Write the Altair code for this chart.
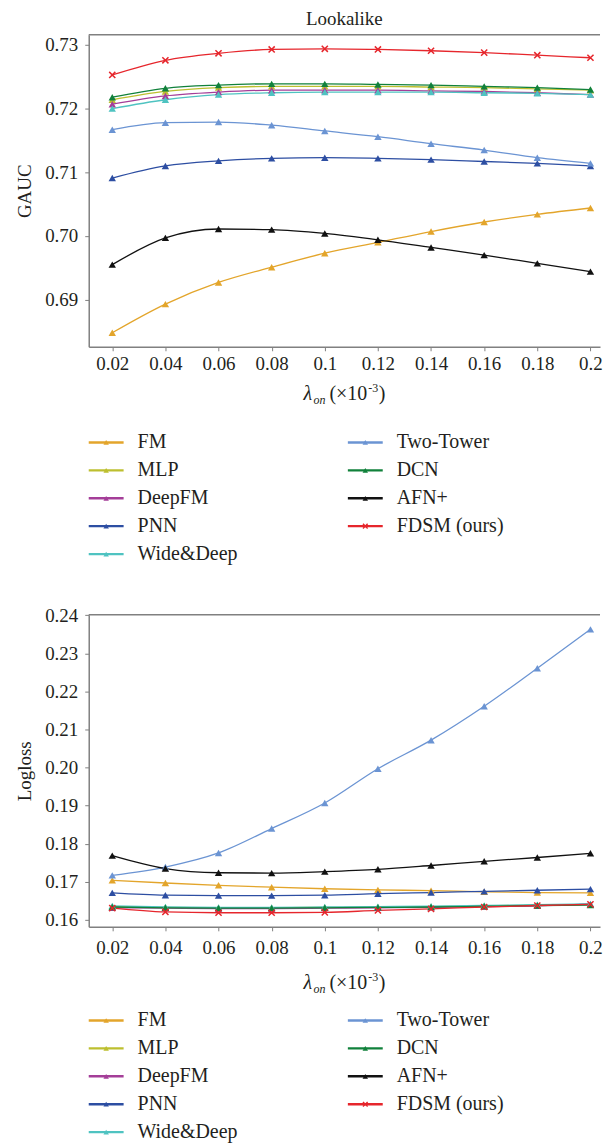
import altair as alt
import pandas as pd

# ---------------- data ----------------
x_vals = [0.02, 0.04, 0.06, 0.08, 0.1, 0.12, 0.14, 0.16, 0.18, 0.2]
names = ["FM", "MLP", "DeepFM", "PNN", "Wide&Deep", "Two-Tower", "DCN", "AFN+", "FDSM (ours)"]
colors = ["#E3A52B", "#BDBF2F", "#A43E98", "#2D4EA2", "#4FC3C1", "#6B94D3", "#11813B", "#111111", "#E6262C"]

fm_gauc = [0.6848, 0.6893, 0.6927, 0.6951, 0.6973, 0.6990, 0.7007, 0.7022, 0.7034, 0.7044]
mlp_gauc = [0.7214, 0.7227, 0.7233, 0.7235, 0.7235, 0.7235, 0.7234, 0.7233, 0.7231, 0.7229]
deepfm_gauc = [0.7207, 0.7220, 0.7226, 0.7229, 0.7229, 0.7229, 0.7228, 0.7227, 0.7225, 0.7222]
pnn_gauc = [0.7091, 0.7110, 0.7118, 0.7122, 0.7123, 0.7122, 0.7120, 0.7117, 0.7114, 0.7110]
wd_gauc = [0.7200, 0.7214, 0.7222, 0.7225, 0.7226, 0.7226, 0.7226, 0.7225, 0.7224, 0.7222]
tt_gauc = [0.7167, 0.7178, 0.7179, 0.7174, 0.7165, 0.7156, 0.7145, 0.7135, 0.7123, 0.7114]
dcn_gauc = [0.7218, 0.7232, 0.7237, 0.7239, 0.7239, 0.7238, 0.7237, 0.7235, 0.7233, 0.7230]
afn_gauc = [0.6955, 0.6997, 0.7011, 0.7010, 0.7004, 0.6994, 0.6982, 0.6970, 0.6957, 0.6944]
fdsm_gauc = [0.7253, 0.7276, 0.7287, 0.7293, 0.7294, 0.7293, 0.7291, 0.7288, 0.7284, 0.7280]

fm_ll = [0.1704, 0.1697, 0.1691, 0.1686, 0.1682, 0.1679, 0.1677, 0.1674, 0.1672, 0.1671]
mlp_ll = [0.1635, 0.1633, 0.1632, 0.1632, 0.1633, 0.1634, 0.1635, 0.1637, 0.1639, 0.1641]
deepfm_ll = [0.1632, 0.1631, 0.1630, 0.1630, 0.1631, 0.1632, 0.1633, 0.1635, 0.1637, 0.1642]
pnn_ll = [0.1671, 0.1665, 0.1664, 0.1664, 0.1665, 0.1669, 0.1672, 0.1675, 0.1678, 0.1681]
wd_ll = [0.1637, 0.1634, 0.1633, 0.1633, 0.1634, 0.1635, 0.1636, 0.1638, 0.1640, 0.1642]
tt_ll = [0.1717, 0.1739, 0.1776, 0.1840, 0.1907, 0.1997, 0.2072, 0.2161, 0.2261, 0.2363]
dcn_ll = [0.1634, 0.1632, 0.1631, 0.1631, 0.1632, 0.1633, 0.1634, 0.1636, 0.1638, 0.1639]
afn_ll = [0.1769, 0.1735, 0.1724, 0.1723, 0.1727, 0.1733, 0.1743, 0.1754, 0.1764, 0.1775]
fdsm_ll = [0.1631, 0.1621, 0.1619, 0.1619, 0.1620, 0.1625, 0.1629, 0.1634, 0.1638, 0.1641]

gauc_ticks = [0.69, 0.70, 0.71, 0.72, 0.73]
ll_ticks = [0.16, 0.17, 0.18, 0.19, 0.20, 0.21, 0.22, 0.23, 0.24]

gauc_series = [fm_gauc, mlp_gauc, deepfm_gauc, pnn_gauc, wd_gauc, tt_gauc, dcn_gauc, afn_gauc, fdsm_gauc]
ll_series = [fm_ll, mlp_ll, deepfm_ll, pnn_ll, wd_ll, tt_ll, dcn_ll, afn_ll, fdsm_ll]


def long_df(series):
    rows = []
    for k, (name, vals) in enumerate(zip(names, series)):
        for x, v in zip(x_vals, vals):
            rows.append({"model": name, "k": k, "x": x, "v": v})
    return pd.DataFrame(rows)


gauc_df = long_df(gauc_series)
ll_df = long_df(ll_series)
leg_df = pd.DataFrame([{"model": n, "col": i // 5, "row": i % 5} for i, n in enumerate(names)])

# ---------------- style ----------------
FONT = "Liberation Serif"
TXT = "#231F20"
AX = "#808080"
W, H = 513, 313
CROSS = "M-1,-1L1,1M-1,1L1,-1"


def panel(df, ytitle, ydomain, yticks, xt_y, leg_range, xlabpad):
    color = alt.Color("model:N", scale=alt.Scale(domain=names, range=colors), legend=None)
    xenc = alt.X("x:Q", scale=alt.Scale(domain=[0.01114, 0.2036], nice=False, zero=False),
                 axis=alt.Axis(values=x_vals, format="~g", title=None, labelFlush=False,
                               tickSize=4, labelPadding=xlabpad))
    yenc = alt.Y("v:Q", scale=alt.Scale(domain=ydomain, nice=False, zero=False),
                 axis=alt.Axis(values=yticks, format=".2f", title=ytitle, labelPadding=7,
                               titlePadding=10, tickSize=4))
    base = alt.Chart(df)
    lines = base.mark_line(strokeWidth=1.3, interpolate="monotone").encode(
        x=xenc, y=yenc, color=color, order="x:Q")
    tri = base.transform_filter(alt.datum.model != "FDSM (ours)").mark_point(
        shape="triangle-up", filled=True, size=55, opacity=1).encode(x=xenc, y=yenc, color=color)
    crs = base.transform_filter(alt.datum.model == "FDSM (ours)").mark_point(
        shape=CROSS, filled=False, size=38, strokeWidth=1.5, opacity=1).encode(x=xenc, y=yenc, color=color)

    one = alt.Data(values=[{}])
    border = alt.Chart(one).mark_rule(color=AX, strokeWidth=1.5).encode(
        x=alt.value(0), x2=alt.value(W), y=alt.value(0))
    x0 = W / 2 - 41
    t1 = alt.Chart(one).mark_text(font=FONT, fontSize=20, fontStyle="italic", align="left",
                                  baseline="alphabetic", color=TXT).encode(
        x=alt.value(x0), y=alt.value(xt_y + 7), text=alt.value("λ"))
    t2 = alt.Chart(one).mark_text(font=FONT, fontSize=12, fontStyle="italic", align="left",
                                  baseline="alphabetic", color=TXT).encode(
        x=alt.value(x0 + 10), y=alt.value(xt_y + 11), text=alt.value("on"))
    t3 = alt.Chart(one).mark_text(font=FONT, fontSize=20, align="left",
                                  baseline="alphabetic", color=TXT).encode(
        x=alt.value(x0 + 26), y=alt.value(xt_y + 7), text=alt.value("(×10"))
    t4 = alt.Chart(one).mark_text(font=FONT, fontSize=12, align="left",
                                  baseline="alphabetic", color=TXT).encode(
        x=alt.value(x0 + 65), y=alt.value(xt_y - 1), text=alt.value("-3"))
    t5 = alt.Chart(one).mark_text(font=FONT, fontSize=20, align="left",
                                  baseline="alphabetic", color=TXT).encode(
        x=alt.value(x0 + 75.5), y=alt.value(xt_y + 7), text=alt.value(")"))

    plot = alt.layer(border, lines, tri, crs, t1, t2, t3, t4, t5)

    leg = alt.Chart(leg_df)
    lx = alt.X("col:Q", scale=alt.Scale(domain=[0, 1], range=[0, 260], nice=False, zero=False), axis=None)
    ly = alt.Y("row:Q", scale=alt.Scale(domain=[0, 4], range=leg_range, nice=False, zero=False), axis=None)
    leg_rule = leg.mark_rule(strokeWidth=2.4, x2Offset=35).encode(
        x=lx, x2=alt.X2("col:Q"), y=ly, color=color)
    leg_tri = leg.transform_filter(alt.datum.model != "FDSM (ours)").mark_point(
        shape="triangle-up", filled=True, size=30, xOffset=17.5, opacity=1).encode(x=lx, y=ly, color=color)
    leg_crs = leg.transform_filter(alt.datum.model == "FDSM (ours)").mark_point(
        shape=CROSS, filled=False, size=22, strokeWidth=1.4, xOffset=17.5, opacity=1).encode(x=lx, y=ly, color=color)
    leg_txt = leg.mark_text(align="left", baseline="middle", dx=49, font=FONT, fontSize=20,
                            color=TXT).encode(x=lx, y=ly, text="model:N")
    legend = alt.layer(leg_rule, leg_tri, leg_crs, leg_txt)

    return alt.layer(plot, legend).resolve_scale(x="independent", y="independent").properties(
        width=W, height=H)


p1 = panel(gauc_df, "GAUC", [0.6826, 0.7316], gauc_ticks, 359, [409, 521], 4).properties(
    title=alt.TitleParams("Lookalike", font=FONT, fontSize=19, fontWeight="normal", color=TXT,
                          anchor="middle", frame="group", offset=5))
p2 = panel(ll_df, "Logloss", [0.1582, 0.2401], ll_ticks, 368, [407, 519], 8)

chart = alt.vconcat(p1, p2, spacing=42).properties(
    padding={"left": 7, "top": 0, "right": 0, "bottom": 0}
).configure_view(strokeWidth=0).configure_axis(
    labelFont=FONT, labelFontSize=19, labelColor=TXT,
    titleFont=FONT, titleFontSize=19, titleFontWeight="normal", titleColor=TXT,
    domainColor=AX, domainWidth=1.5, tickColor=AX, tickWidth=1, grid=False
)

chart.save("out.html", embed_options={"renderer": "svg", "actions": False})
